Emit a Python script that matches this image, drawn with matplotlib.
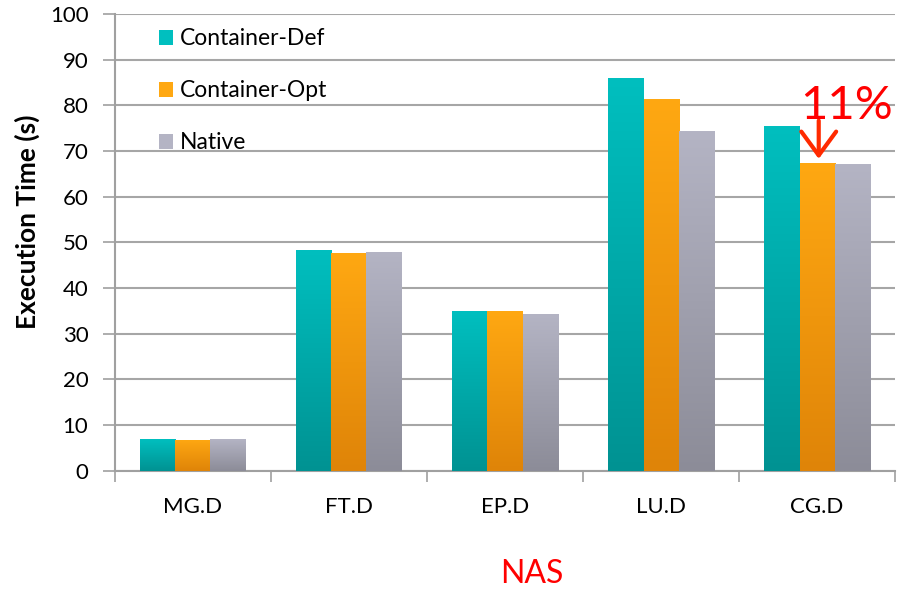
import numpy as np
import matplotlib
matplotlib.use('Agg')
from matplotlib import pyplot as plt
from matplotlib.colors import LinearSegmentedColormap
from matplotlib.patches import Patch

plt.rcParams['font.family'] = ['Lato', 'DejaVu Sans']

benchmarks = ['MG.D', 'FT.D', 'EP.D', 'LU.D', 'CG.D']
series = ['Container-Def', 'Container-Opt', 'Native']
container_def = [7.0, 48.3, 34.9, 86.0, 75.5]
container_opt = [6.8, 47.6, 34.9, 81.4, 67.5]
native = [7.0, 48.0, 34.3, 74.4, 67.1]

# (top colour, bottom colour) for the gradient fill
shades = [('#00BFBF', '#009292'), ('#FFA812', '#DF8408'), ('#B4B4C4', '#8C8C98')]

fig = plt.figure(figsize=(8.97, 5.90), dpi=100)
ax = fig.add_axes([0.128, 0.202, 0.870, 0.774])

x = np.arange(len(benchmarks))
w = 0.225
grad = np.linspace(1, 0, 256).reshape(-1, 1)
for i, (vals, (top, bot)) in enumerate(zip([container_def, container_opt, native], shades)):
    bars = ax.bar(x + (i - 1) * w, vals, w, color=top, zorder=2, linewidth=0)
    cmap = LinearSegmentedColormap.from_list('g%d' % i, [bot, top])
    for b in bars:
        x0, y0 = b.get_x(), b.get_y()
        im = ax.imshow(grad, cmap=cmap, aspect='auto', zorder=3,
                       extent=[x0, x0 + b.get_width(), y0, y0 + b.get_height()])
        im.set_clip_path(b)

ax.set_xlim(-0.5, len(benchmarks) - 0.5)
ax.set_ylim(0, 100)
ax.set_yticks(range(0, 101, 10))
ax.set_xticks(x)
ax.set_xticklabels(benchmarks)
ax.set_xticks(np.arange(-0.5, len(benchmarks)), minor=True)
ax.tick_params(axis='x', which='major', length=0, pad=19, labelsize=16)
ax.tick_params(axis='x', which='minor', length=8, width=1.2, color='#A0A0A0', direction='out')
ax.tick_params(axis='y', length=9, width=1.2, color='#A0A0A0', labelsize=16, pad=10)

ax.grid(axis='y', color='#A6A6A6', linewidth=1.5, zorder=0)
ax.set_axisbelow(True)
for s in ['top', 'right']:
    ax.spines[s].set_visible(False)
for s in ['left', 'bottom']:
    ax.spines[s].set_color('#A0A0A0')
    ax.spines[s].set_linewidth(1.5)

fig.text(27 / 897, 1 - 222 / 590, 'Execution Time (s)', rotation=90, fontsize=19,
         fontweight='bold', ha='center', va='center')
fig.text(532 / 897, 16 / 590, 'NAS', fontsize=23, color='#FF0000', ha='center', va='center')

handles = [Patch(facecolor=top, edgecolor='none') for top, bot in shades]
ax.legend(handles, series, loc='upper left', bbox_to_anchor=(0.056, 0.969), frameon=False,
          fontsize=16.5, handlelength=0.62, handleheight=0.62, handletextpad=0.3,
          labelspacing=1.35, borderaxespad=0, borderpad=0)

# annotation on CG.D
ax.annotate('', xy=(4.01, container_opt[4] + 0.2), xytext=(4.01, 77.3),
            arrowprops=dict(arrowstyle='->,head_length=0.45,head_width=0.33',
                            color='#FF2A00', lw=3, mutation_scale=38),
            zorder=5)
ax.text(4.19, 77.0, '11%', color='#FF0000', fontsize=34, ha='center', va='baseline', zorder=5)

fig.savefig('out.png', dpi=100)
